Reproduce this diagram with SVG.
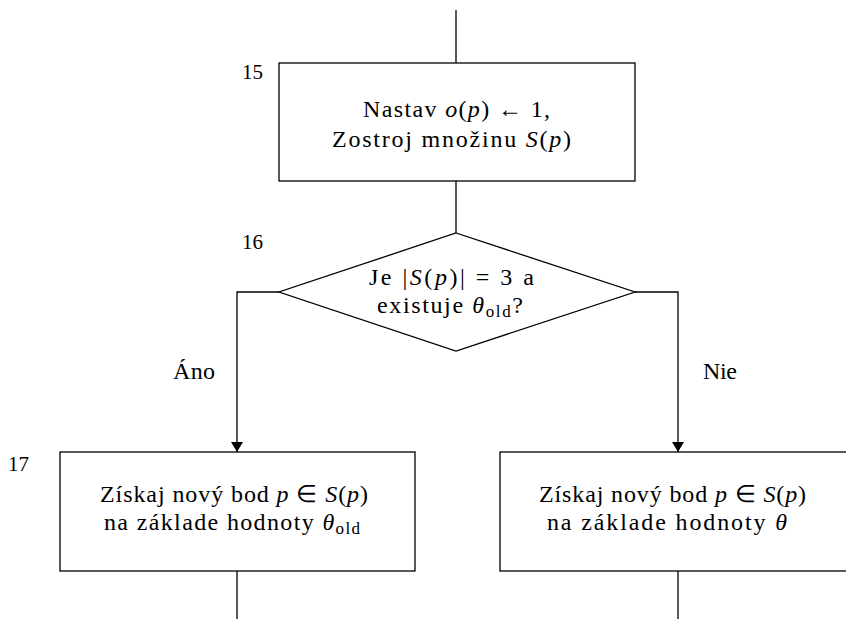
<svg xmlns="http://www.w3.org/2000/svg" width="846" height="619" viewBox="0 0 846 619">
<style>
.s{fill:#fff;stroke:#000;stroke-width:1.3}
.c{fill:none;stroke:#000;stroke-width:1.3}
</style>
<defs>
<marker id="ah" viewBox="0 0 10 12" refX="10" refY="6" markerWidth="10" markerHeight="12" markerUnits="userSpaceOnUse" orient="auto">
<path d="M0,0 L10,6 L0,12 z" fill="#000"/>
</marker>
</defs>
<g id="connectors">
<line class="c" x1="456" y1="10" x2="456" y2="63"/>
<line class="c" x1="456" y1="181" x2="456" y2="233"/>
<polyline class="c" points="279,292 237,292 237,452" marker-end="url(#ah)"/>
<polyline class="c" points="635,292 678,292 678,452" marker-end="url(#ah)"/>
<line class="c" x1="237" y1="571" x2="237" y2="619"/>
<line class="c" x1="678" y1="571" x2="678" y2="619"/>
<text font-family="Liberation Serif, serif" font-size="24" x="173" y="379" textLength="42">Áno</text>
<text font-family="Liberation Serif, serif" font-size="24" x="703" y="379" textLength="34">Nie</text>
</g>
<g id="n15">
<rect class="s" x="279" y="63" width="356" height="118"/>
<text font-family="Liberation Serif, serif" font-size="21" x="242" y="79">15</text>
<text font-family="Liberation Serif, serif" font-size="24" x="363" y="117" textLength="187">Nastav <tspan font-style="italic">o</tspan>(<tspan font-style="italic">p</tspan>) ← 1,</text>
<text font-family="Liberation Serif, serif" font-size="24" x="332" y="147" textLength="239">Zostroj množinu <tspan font-style="italic">S</tspan>(<tspan font-style="italic">p</tspan>)</text>
</g>
<g id="n16">
<polygon class="s" points="456,233 635,292 456,351 279,292"/>
<text font-family="Liberation Serif, serif" font-size="21" x="242" y="249">16</text>
<text font-family="Liberation Serif, serif" font-size="24" x="369" y="285" textLength="165">Je |<tspan font-style="italic">S</tspan>(<tspan font-style="italic">p</tspan>)| = 3 a</text>
<text font-family="Liberation Serif, serif" font-size="24" x="377" y="313" textLength="146">existuje <tspan font-style="italic">θ</tspan><tspan font-size="17" dy="4">old</tspan><tspan dy="-4">?</tspan></text>
</g>
<g id="n17">
<rect class="s" x="60" y="452" width="355" height="119"/>
<text font-family="Liberation Serif, serif" font-size="21" x="8" y="471">17</text>
<text font-family="Liberation Serif, serif" font-size="24" x="100" y="502" textLength="268">Získaj nový bod <tspan font-style="italic">p</tspan> ∈ <tspan font-style="italic">S</tspan>(<tspan font-style="italic">p</tspan>)</text>
<text font-family="Liberation Serif, serif" font-size="24" x="104" y="530" textLength="256">na základe hodnoty <tspan font-style="italic">θ</tspan><tspan font-size="17" dy="4">old</tspan></text>
</g>
<g id="n17b">
<rect class="s" x="500" y="452" width="355" height="119"/>
<text font-family="Liberation Serif, serif" font-size="24" x="539" y="502" textLength="267">Získaj nový bod <tspan font-style="italic">p</tspan> ∈ <tspan font-style="italic">S</tspan>(<tspan font-style="italic">p</tspan>)</text>
<text font-family="Liberation Serif, serif" font-size="24" x="547" y="530" textLength="240">na základe hodnoty <tspan font-style="italic">θ</tspan></text>
</g>
</svg>
